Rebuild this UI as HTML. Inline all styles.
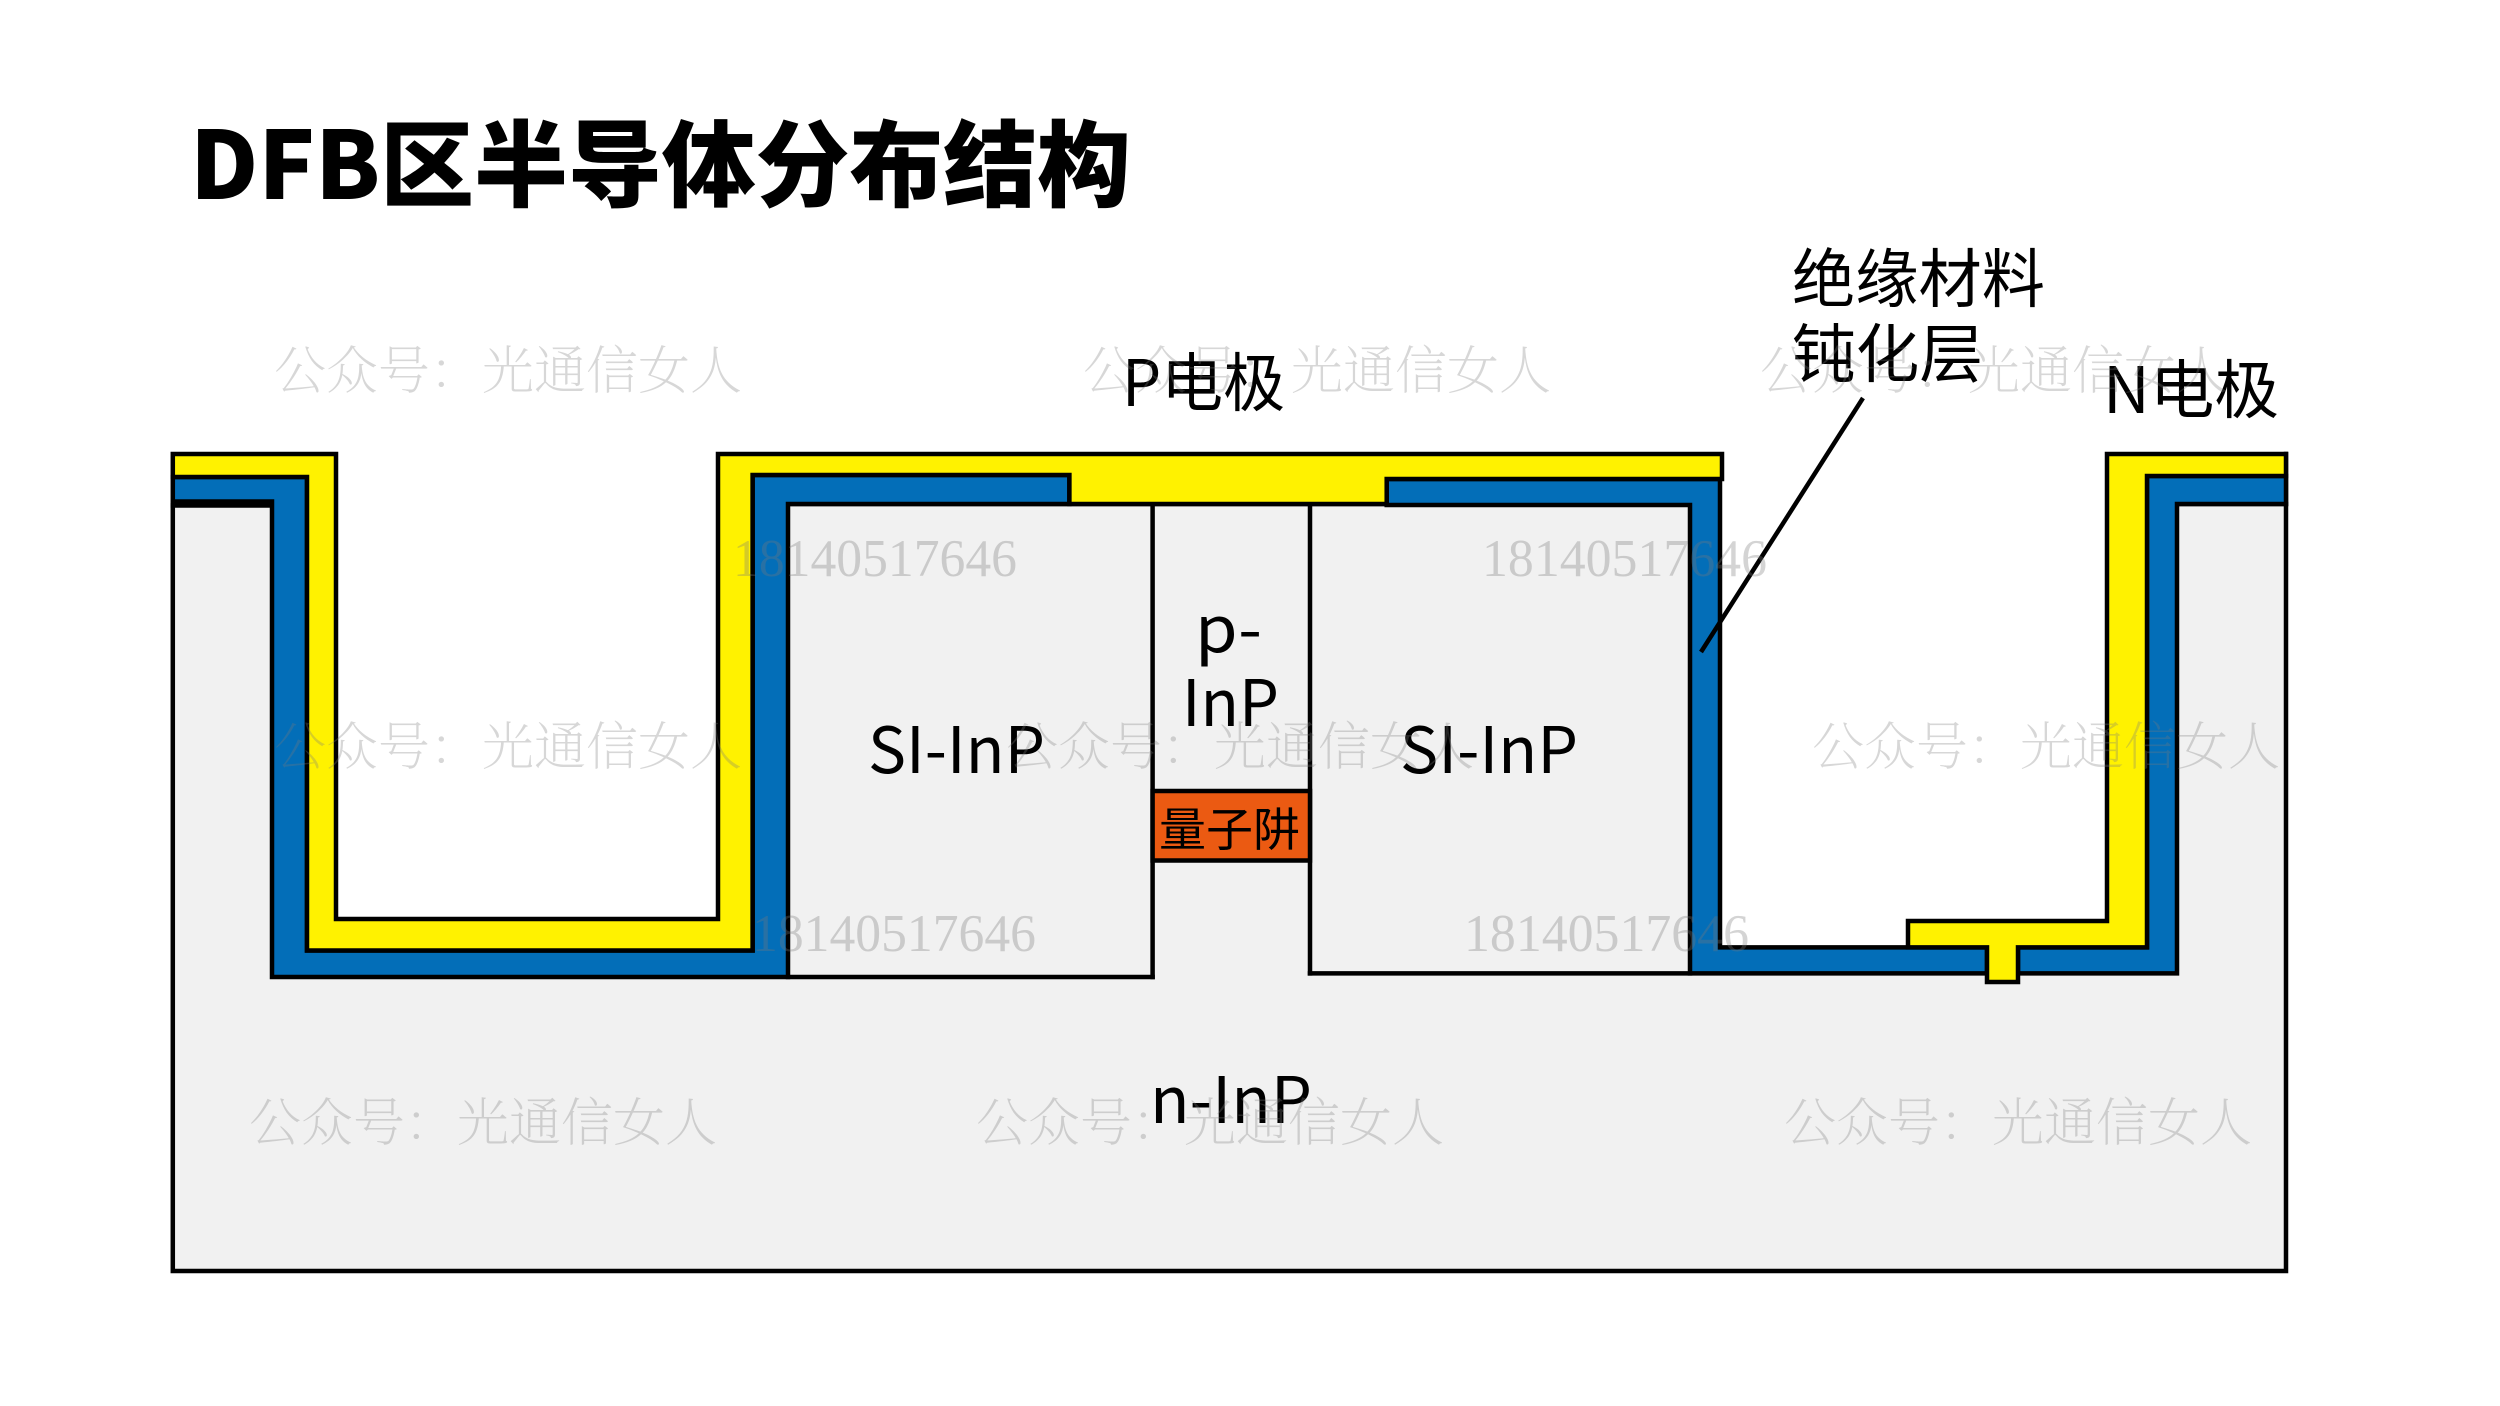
<!DOCTYPE html>
<html lang="zh">
<head>
<meta charset="utf-8">
<title>DFB区半导体分布结构</title>
<style>
html,body{margin:0;padding:0;background:#fff;width:2500px;height:1406px;overflow:hidden}
svg{display:block}
.l{font-family:"Noto Sans CJK SC","Liberation Sans",sans-serif;font-size:64px;fill:#000}
.t{font-family:"Noto Sans CJK SC","Liberation Sans",sans-serif;font-size:94px;font-weight:900;fill:#000}
.w{font-family:"Noto Serif CJK SC","Liberation Serif",serif;font-size:52px;font-weight:200;fill:#7a7a7a;fill-opacity:.3}
.n{font-family:"Liberation Serif",serif;font-size:53px;fill:#7a7a7a;fill-opacity:.32}
</style>
</head>
<body>
<svg width="2500" height="1406" viewBox="0 0 2500 1406" xmlns="http://www.w3.org/2000/svg">
<rect width="2500" height="1406" fill="#fff"/>

<!-- substrate -->
<polygon fill="#F1F1F1" points="172.800,505.500 272,505.500 272,977 788,977 788,504 1690,504 1690,973 2177,973 2177,504 2286,504 2286,1271 172.800,1271"/>

<g fill="none" stroke="#000" stroke-width="4.500" stroke-linejoin="miter" stroke-linecap="square">
<!-- substrate outline -->
<polyline points="172.800,505.500 172.800,1271 2286,1271 2286,454"/>
<line x1="172.800" y1="505.500" x2="272" y2="505.500"/>
<line x1="788" y1="504" x2="1690" y2="504"/>
<line x1="2177" y1="504" x2="2286" y2="504"/>
<line x1="1152.600" y1="504" x2="1152.600" y2="977"/>
<line x1="1310" y1="504" x2="1310" y2="973.400"/>
<line x1="788" y1="977" x2="1152.600" y2="977"/>
<line x1="1310" y1="973.400" x2="1690" y2="973.400"/>

<!-- passivation, left -->
<polygon fill="#036EB8" points="172.800,477 307,477 307,950.500 752.600,950.500 752.600,475 1069.400,475 1069.400,504 788,504 788,977 272,977 272,501.500 172.800,501.500"/>
<!-- passivation, right of centre -->
<polygon fill="#036EB8" points="1386.700,479 1720,479 1720,947.400 1987,947.400 1987,973.400 1690,973.400 1690,505 1386.700,505"/>
<!-- passivation, right -->
<polygon fill="#036EB8" points="2018,947.400 2147,947.400 2147,476 2286,476 2286,504 2177,504 2177,973.400 2018,973.400"/>

<!-- P electrode -->
<polygon fill="#FFF200" points="172.800,454 336,454 336,919 718,919 718,454 1722,454 1722,479 1386.700,479 1386.700,504 1069.400,504 1069.400,475 752.600,475 752.600,950.500 307,950.500 307,477 172.800,477"/>
<!-- N electrode -->
<polygon fill="#FFF200" points="2107,454 2286,454 2286,476 2147,476 2147,947.400 2018,947.400 2018,982 1987,982 1987,947.400 1908,947.400 1908,921 2107,921"/>

<!-- quantum well -->
<rect x="1152.600" y="791" width="157.400" height="69.500" fill="#EB5A12"/>

<!-- leader -->
<line x1="1863" y1="398" x2="1701" y2="652" stroke-linecap="butt"/>
</g>

<!-- labels -->
<text class="t" x="190" y="199" textLength="941" lengthAdjust="spacingAndGlyphs">DFB区半导体分布结构</text>
<text class="l" x="1122" y="406" textLength="163" lengthAdjust="spacingAndGlyphs">P电极</text>
<text class="l" x="1792" y="302" textLength="253" lengthAdjust="spacingAndGlyphs">绝缘材料</text>
<text class="l" x="1792" y="377" textLength="191" lengthAdjust="spacingAndGlyphs">钝化层</text>
<text class="l" x="2103" y="413" textLength="176" lengthAdjust="spacingAndGlyphs">N电极</text>
<text class="l" x="868" y="773" textLength="177" lengthAdjust="spacingAndGlyphs">SI-InP</text>
<text class="l" x="1400" y="773" textLength="178" lengthAdjust="spacingAndGlyphs">SI-InP</text>
<text class="l" x="1195" y="652" textLength="67" lengthAdjust="spacingAndGlyphs">p-</text>
<text class="l" x="1182" y="726" textLength="97" lengthAdjust="spacingAndGlyphs">InP</text>
<text class="l" x="1150" y="1123" textLength="162" lengthAdjust="spacingAndGlyphs">n-InP</text>
<text class="l" x="1159" y="846" style="font-size:46px" textLength="141" lengthAdjust="spacingAndGlyphs">量子阱</text>

<!-- watermarks -->
<text class="w" x="274" y="389">公众号：光通信女人</text>
<text class="w" x="1083" y="389">公众号：光通信女人</text>
<text class="w" x="1760" y="389">公众号：光通信女人</text>
<text class="w" x="274" y="765">公众号：光通信女人</text>
<text class="w" x="1006" y="765">公众号：光通信女人</text>
<text class="w" x="1812" y="765">公众号：光通信女人</text>
<text class="w" x="249" y="1141">公众号：光通信女人</text>
<text class="w" x="976" y="1141">公众号：光通信女人</text>
<text class="w" x="1784" y="1141">公众号：光通信女人</text>
<text class="n" x="733" y="576" textLength="284" lengthAdjust="spacingAndGlyphs">18140517646</text>
<text class="n" x="1482" y="576" textLength="285" lengthAdjust="spacingAndGlyphs">18140517646</text>
<text class="n" x="752" y="951" textLength="284" lengthAdjust="spacingAndGlyphs">18140517646</text>
<text class="n" x="1464" y="951" textLength="285" lengthAdjust="spacingAndGlyphs">18140517646</text>
</svg>
</body>
</html>
